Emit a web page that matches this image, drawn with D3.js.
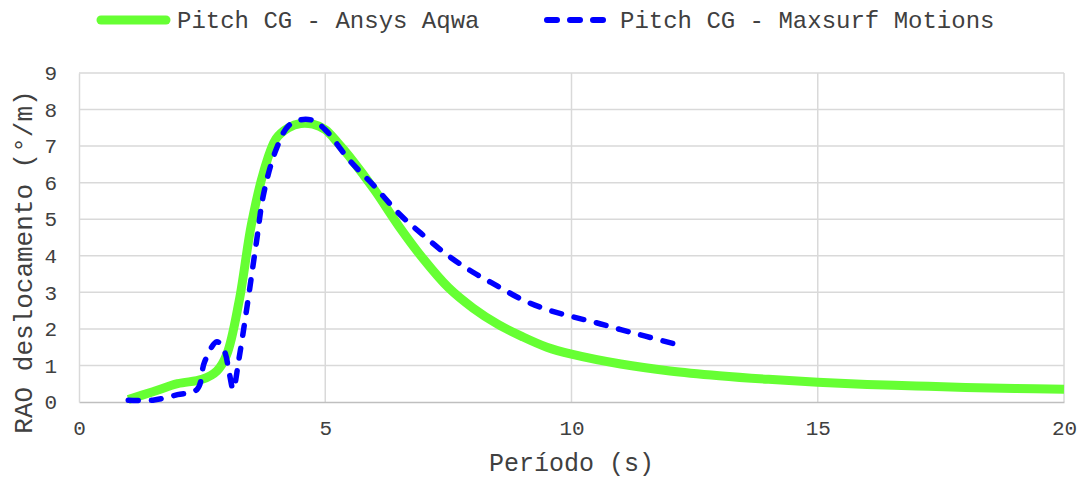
<!DOCTYPE html>
<html>
<head>
<meta charset="utf-8">
<script src="https://cdn.jsdelivr.net/npm/d3@7"></script>
<style>
  body { margin: 0; background: #fff; }
  text { font-family: "Liberation Mono", "Courier New", monospace; fill: #404040; }
</style>
</head>
<body>
<svg id="chart" width="1085" height="478"></svg>
<script>
// periods (s) and RAO values
const aqwaT = [1, 1.5, 2, 2.5, 2.8, 3, 3.25, 3.5, 3.75, 4, 4.25, 4.5, 4.75, 5, 5.25, 5.5, 6, 6.5, 7, 7.5, 8, 8.5, 9, 9.5, 10, 11, 12, 13, 14, 15, 16, 17, 18, 19, 20];
const aqwaRAO = [0.07, 0.28, 0.5, 0.62, 0.85, 1.3, 2.75, 4.85, 6.3, 7.2, 7.5, 7.62, 7.6, 7.45, 7.1, 6.7, 5.8, 4.8, 3.9, 3.13, 2.57, 2.13, 1.79, 1.5, 1.31, 1.04, 0.85, 0.72, 0.62, 0.54, 0.48, 0.44, 0.4, 0.37, 0.35];

const maxsurfT = [1, 1.5, 2, 2.4, 2.55, 2.8, 2.95, 3.05, 3.13, 3.25, 3.4, 3.6, 3.75, 4, 4.25, 4.5, 4.75, 5, 5.5, 6, 6.5, 7, 7.5, 8, 8.5, 9, 9.5, 10, 10.5, 11, 11.5, 12.2];
const maxsurfRAO = [0.05, 0.05, 0.2, 0.35, 1.1, 1.65, 1.4, 0.8, 0.35, 1.2, 2.5, 4.35, 5.7, 6.9, 7.55, 7.72, 7.7, 7.45, 6.6, 5.9, 5.15, 4.55, 4.0, 3.55, 3.17, 2.8, 2.53, 2.34, 2.17, 1.98, 1.8, 1.55];

const xTicks = [0, 5, 10, 15, 20];
const yTicks = [0, 1, 2, 3, 4, 5, 6, 7, 8, 9];
const seriesNames = ["Pitch CG - Ansys Aqwa", "Pitch CG - Maxsurf Motions"];

const width = 1085, height = 478;
const margin = { top: 73, right: 21, bottom: 76, left: 79 };

const svg = d3.select("#chart");

const x = d3.scaleLinear().domain([0, 20]).range([margin.left, width - margin.right]);
const y = d3.scaleLinear().domain([0, 9]).range([height - margin.bottom, margin.top]);

// gridlines
svg.append("g").selectAll("line").data(yTicks.slice(1)).join("line")
  .attr("x1", x(0)).attr("x2", x(20))
  .attr("y1", d => y(d)).attr("y2", d => y(d))
  .attr("stroke", "#d9d9d9").attr("stroke-width", 1.5);
svg.append("g").selectAll("line").data(xTicks.slice(1)).join("line")
  .attr("x1", d => x(d)).attr("x2", d => x(d))
  .attr("y1", y(0)).attr("y2", y(9))
  .attr("stroke", "#d9d9d9").attr("stroke-width", 1.5);

// axes
const xAxis = svg.append("g")
  .attr("transform", `translate(0,${y(0)})`)
  .call(d3.axisBottom(x).tickValues(xTicks).tickSize(0).tickPadding(18));
xAxis.select(".domain").attr("stroke", "#bfbfbf").attr("stroke-width", 1.5);
xAxis.selectAll("text").style("font-size", "21px").attr("fill", "#404040");

const yAxis = svg.append("g")
  .attr("transform", `translate(${x(0)},0)`)
  .call(d3.axisLeft(y).tickValues(yTicks).tickSize(0).tickPadding(22));
yAxis.select(".domain").attr("stroke", "#d9d9d9").attr("stroke-width", 1.5);
yAxis.selectAll("text").style("font-size", "21px").attr("fill", "#404040");

// axis titles
svg.append("text")
  .attr("x", x(10)).attr("y", 471)
  .attr("text-anchor", "middle")
  .style("font-size", "25px")
  .text("Período (s)");

svg.append("text")
  .attr("transform", "translate(32,262) rotate(-90)")
  .attr("text-anchor", "middle")
  .style("font-size", "26px")
  .text("RAO deslocamento (°/m)");

// lines
const line = d3.line()
  .x(d => x(d[0]))
  .y(d => y(d[1]))
  .curve(d3.curveCatmullRom.alpha(0.5));

svg.append("path")
  .datum(d3.zip(aqwaT, aqwaRAO))
  .attr("fill", "none")
  .attr("stroke", "#66ff33")
  .attr("stroke-width", 9)
  .attr("stroke-linejoin", "round")
  .attr("d", line);

svg.append("path")
  .datum(d3.zip(maxsurfT, maxsurfRAO))
  .attr("fill", "none")
  .attr("stroke", "#0000ff")
  .attr("stroke-width", 5.5)
  .attr("stroke-linecap", "round")
  .attr("stroke-dasharray", "10,13")
  .attr("d", line);

// legend
const legend = svg.append("g");
legend.append("line")
  .attr("x1", 101).attr("x2", 166).attr("y1", 20).attr("y2", 20)
  .attr("stroke", "#66ff33").attr("stroke-width", 9).attr("stroke-linecap", "round");
legend.append("text")
  .attr("x", 177).attr("y", 28)
  .style("font-size", "24px")
  .text(seriesNames[0]);
legend.append("line")
  .attr("x1", 547).attr("x2", 608).attr("y1", 20).attr("y2", 20)
  .attr("stroke", "#0000ff").attr("stroke-width", 6)
  .attr("stroke-linecap", "round").attr("stroke-dasharray", "10,13");
legend.append("text")
  .attr("x", 620).attr("y", 28)
  .style("font-size", "24px")
  .text(seriesNames[1]);
</script>
</body>
</html>
